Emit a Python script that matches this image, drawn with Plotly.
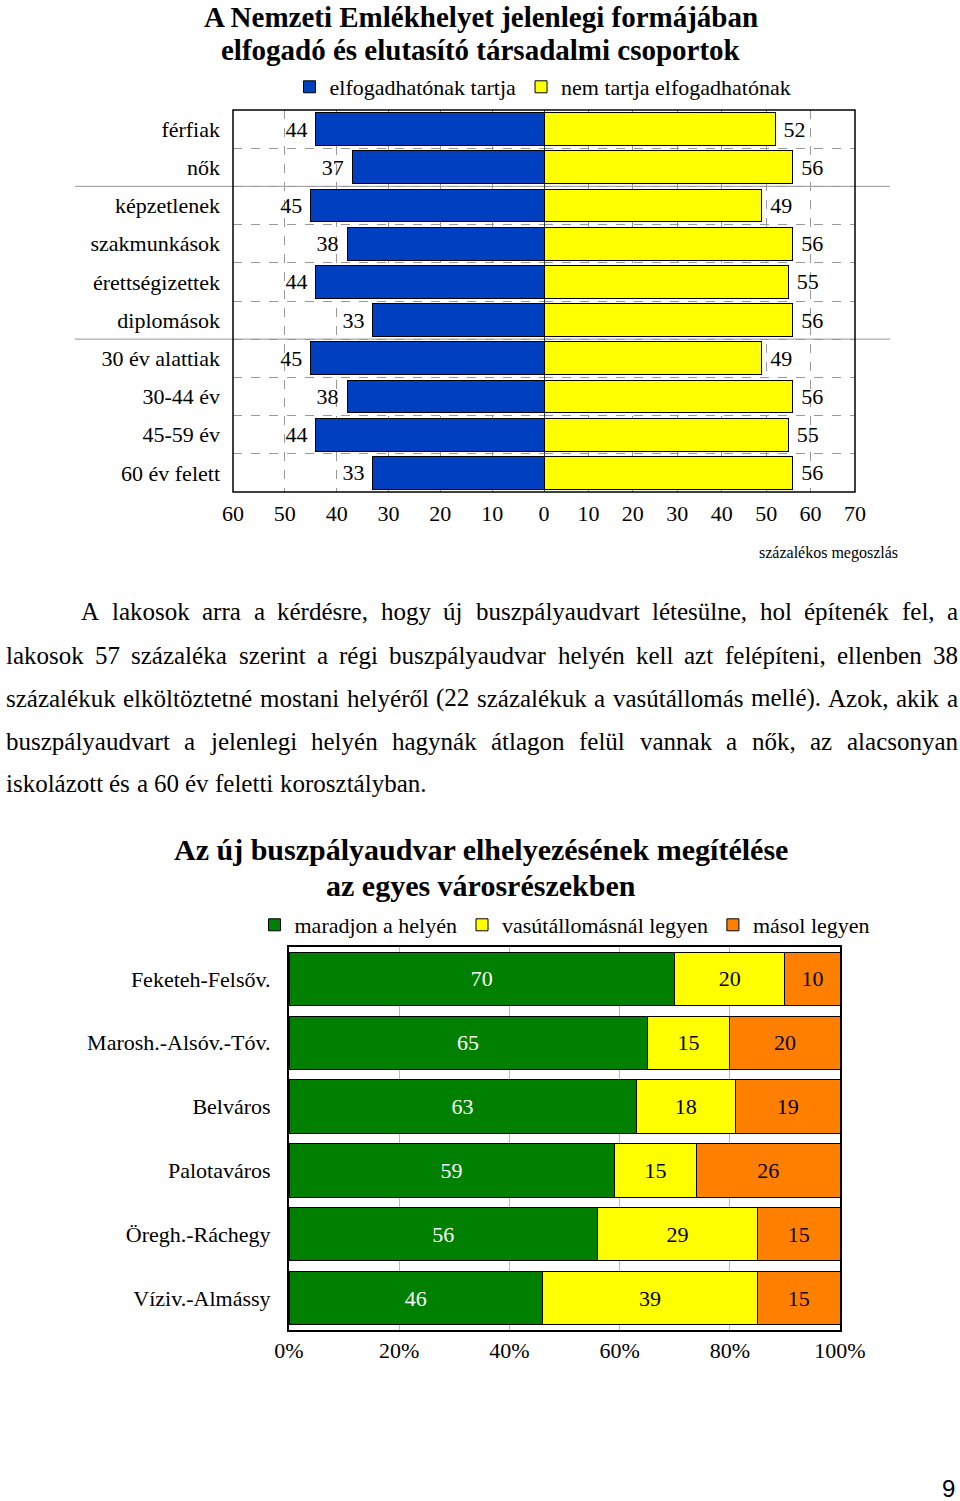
import plotly.graph_objects as go

W, H = 960, 1501
SERIF = "Liberation Serif"

# ---------------- data: chart 1 ----------------
groups = ["férfiak", "nők", "képzetlenek", "szakmunkások", "érettségizettek",
          "diplomások", "30 év alattiak", "30-44 év", "45-59 év", "60 év felett"]
accept = [44, 37, 45, 38, 44, 33, 45, 38, 44, 33]
reject = [52, 56, 49, 56, 55, 56, 49, 56, 55, 56]
left_ticks = [60, 50, 40, 30, 20, 10, 0]
right_ticks = [10, 20, 30, 40, 50, 60, 70]
group_breaks = [1, 5]  # separator line after these category indices

# ---------------- data: chart 2 ----------------
districts = ["Feketeh-Felsőv.", "Marosh.-Alsóv.-Tóv.", "Belváros", "Palotaváros",
             "Öregh.-Ráchegy", "Víziv.-Almássy"]
stay = [70, 65, 63, 59, 56, 46]
railway = [20, 15, 18, 15, 29, 39]
elsewhere = [10, 20, 19, 26, 15, 15]
pct_ticks = [0, 20, 40, 60, 80, 100]
pct_labels = ["0%", "20%", "40%", "60%", "80%", "100%"]

# ---------------- text ----------------
title1 = ["A Nemzeti Emlékhelyet jelenlegi formájában",
          "elfogadó és elutasító társadalmi csoportok"]
title2 = ["Az új buszpályaudvar elhelyezésének megítélése",
          "az egyes városrészekben"]
paragraph = [
    "A lakosok arra a kérdésre, hogy új buszpályaudvart létesülne, hol építenék fel, a",
    "lakosok 57 százaléka szerint a régi buszpályaudvar helyén kell azt felépíteni, ellenben 38",
    "százalékuk elköltöztetné mostani helyéről (22 százalékuk a vasútállomás mellé). Azok, akik a",
    "buszpályaudvart a jelenlegi helyén hagynák átlagon felül vannak a nők, az alacsonyan",
    "iskolázott és a 60 év feletti korosztályban.",
]


def fx(px):
    return px / W


def fy(py):
    return 1 - py / H


BLUE = "#0040C0"
YELLOW = "#FFFF00"
GREEN = "#008000"
ORANGE = "#FF8000"
NB = "\u00a0"

fig = go.Figure()

# chart 1 bars
fig.add_bar(y=groups, x=accept, orientation="h", name="elfogadhatónak tartja",
            marker=dict(color=BLUE, line=dict(color="black", width=1)), width=0.86,
            text=[f"{v}{NB}" for v in accept], textposition="outside", cliponaxis=False,
            textfont=dict(size=22, color="black", family=SERIF),
            xaxis="x", yaxis="y", legend="legend")
fig.add_bar(y=groups, x=reject, orientation="h", name="nem tartja elfogadhatónak",
            marker=dict(color=YELLOW, line=dict(color="black", width=1)), width=0.86,
            text=[f"{NB}{v}" for v in reject], textposition="outside", cliponaxis=False,
            textfont=dict(size=22, color="black", family=SERIF),
            xaxis="x2", yaxis="y", legend="legend")

# chart 2 stacked bars
for vals, name, col, tcol in [(stay, "maradjon a helyén", GREEN, "white"),
                              (railway, "vasútállomásnál legyen", YELLOW, "black"),
                              (elsewhere, "másol legyen", ORANGE, "black")]:
    fig.add_bar(y=districts, x=vals, orientation="h", name=name,
                marker=dict(color=col, line=dict(color="black", width=1)), width=0.835,
                text=vals, textposition="inside", insidetextanchor="middle",
                textfont=dict(size=22, color=tcol, family=SERIF),
                xaxis="x3", yaxis="y3", legend="legend2")

tickfont = dict(size=22, color="black", family=SERIF)
y1dom = [fy(492), fy(110)]
y3dom = [fy(1330), fy(947)]

fig.update_layout(
    template="none",
    width=W, height=H, margin=dict(l=0, r=0, t=0, b=0, pad=0, autoexpand=False),
    paper_bgcolor="white", plot_bgcolor="white", barmode="stack",
    font=dict(family=SERIF, color="black", size=22),
    xaxis=dict(domain=[fx(233), fx(544)], range=[60, 0], tickvals=left_ticks,
               anchor="y", showgrid=True, griddash="dash", gridcolor="#999999",
               zeroline=False, ticks="", tickfont=tickfont, automargin=False,
               showline=False, ticklabelstandoff=6),
    xaxis2=dict(domain=[fx(544), fx(855)], range=[0, 70], tickvals=right_ticks,
                anchor="y", showgrid=True, griddash="dash", gridcolor="#999999",
                zeroline=False, ticks="", tickfont=tickfont, automargin=False,
                showline=False, ticklabelstandoff=6),
    yaxis=dict(domain=y1dom, type="category", autorange="reversed", anchor="x",
               tickson="boundaries", showgrid=True, griddash="dash", gridcolor="#999999",
               ticks="", tickfont=tickfont, ticklabelstandoff=12, automargin=False,
               showline=False, zeroline=False),
    xaxis3=dict(domain=[fx(289), fx(840)], range=[0, 100], tickvals=pct_ticks,
                ticktext=pct_labels, anchor="y3", showgrid=True, gridcolor="#bbbbbb",
                zeroline=False, ticks="", tickfont=tickfont, automargin=False,
                showline=True, mirror=True, linecolor="black", linewidth=2),
    yaxis3=dict(domain=y3dom, type="category", autorange="reversed", anchor="x3",
                showgrid=False, ticks="", tickfont=tickfont, ticklabelstandoff=12,
                automargin=False, zeroline=False,
                showline=True, mirror=True, linecolor="black", linewidth=2),
    legend=dict(orientation="h", x=fx(543), xanchor="center", y=fy(87), yanchor="middle",
                font=dict(size=22, family=SERIF), bgcolor="rgba(0,0,0,0)",
                itemwidth=30, traceorder="normal", borderwidth=0),
    legend2=dict(orientation="h", x=fx(565), xanchor="center", y=fy(925), yanchor="middle",
                 font=dict(size=22, family=SERIF), bgcolor="rgba(0,0,0,0)",
                 itemwidth=30, traceorder="normal", borderwidth=0),
    showlegend=True,
)

shapes = [
    dict(type="rect", xref="paper", yref="paper", x0=fx(233), x1=fx(855),
         y0=y1dom[0], y1=y1dom[1], line=dict(color="black", width=1.5), layer="above"),
    dict(type="line", xref="x2", yref="paper", x0=0, x1=0, y0=y1dom[0], y1=y1dom[1],
         line=dict(color="black", width=1.5), layer="above"),
]
for b in group_breaks:
    shapes.append(dict(type="line", xref="paper", yref="y", x0=fx(75), x1=fx(890),
                       y0=b + 0.5, y1=b + 0.5, line=dict(color="#aaaaaa", width=1.2),
                       layer="below"))
fig.update_layout(shapes=shapes)

annotations = []
for i, line in enumerate(title1):
    annotations.append(dict(text="<b>" + line + "</b>", x=fx(481), y=fy(17 + 33 * i),
                            xref="paper", yref="paper", showarrow=False,
                            font=dict(size=29, family=SERIF, color="black"),
                            xanchor="center", yanchor="middle"))
for i, line in enumerate(title2):
    annotations.append(dict(text="<b>" + line + "</b>", x=fx(481), y=fy(850 + 35 * i),
                            xref="paper", yref="paper", showarrow=False,
                            font=dict(size=30, family=SERIF, color="black"),
                            xanchor="center", yanchor="middle"))
annotations.append(dict(text="százalékos megoszlás", x=fx(828), y=fy(553), xref="paper",
                        yref="paper", showarrow=False,
                        font=dict(size=16, family=SERIF, color="black"),
                        xanchor="center", yanchor="middle"))
annotations.append(dict(text="9", x=fx(948), y=fy(1488), xref="paper", yref="paper",
                        showarrow=False, font=dict(size=24, family="Liberation Sans",
                                                   color="black"),
                        xanchor="center", yanchor="middle"))

# justified paragraph (Times/Liberation Serif advance widths, per 1000 em)
TW = dict(zip("abcdefghijklmnopqrstuvwxyz",
              [444, 500, 444, 500, 444, 333, 500, 500, 278, 278, 500, 278, 778, 500, 500,
               500, 500, 333, 389, 278, 500, 500, 722, 500, 500, 444]))
TW.update(dict(zip("ABCDEFGHIJKLMNOPQRSTUVWXYZ",
                   [722, 667, 667, 722, 611, 556, 722, 722, 333, 389, 722, 611, 889, 722,
                    722, 556, 722, 667, 556, 611, 722, 722, 944, 722, 722, 611])))
TW.update({c: 500 for c in "0123456789"})
TW.update({" ": 250, ",": 250, ".": 250, "(": 333, ")": 333, "-": 333})
BASE = {"á": "a", "é": "e", "í": "i", "ó": "o", "ö": "o", "ő": "o", "ú": "u", "ü": "u", "ű": "u"}
PSIZE = 25


def text_w(s):
    return sum(TW.get(BASE.get(c, c), 500) for c in s) / 1000 * PSIZE


line_y = [611, 655, 698, 741, 784]
line_x0 = [79, 4, 4, 4, 4]
right_edge = 956
for li, line in enumerate(paragraph):
    words = line.split(" ")
    widths = [text_w(w) for w in words]
    if li < len(paragraph) - 1 and len(words) > 1:
        gap = (right_edge - line_x0[li] - sum(widths)) / (len(words) - 1)
    else:
        gap = text_w(" ")
    x = line_x0[li]
    for w, wd in zip(words, widths):
        annotations.append(dict(text=w, x=fx(x), y=fy(line_y[li]), xref="paper",
                                yref="paper", showarrow=False, xanchor="left",
                                yanchor="middle",
                                font=dict(size=PSIZE, family=SERIF, color="black")))
        x += wd + gap

fig.update_layout(annotations=annotations)

fig.write_html(
    "out.html",
    config={"displayModeBar": False},
    post_script="document.body.style.margin='0';document.body.style.overflow='hidden';",
)
